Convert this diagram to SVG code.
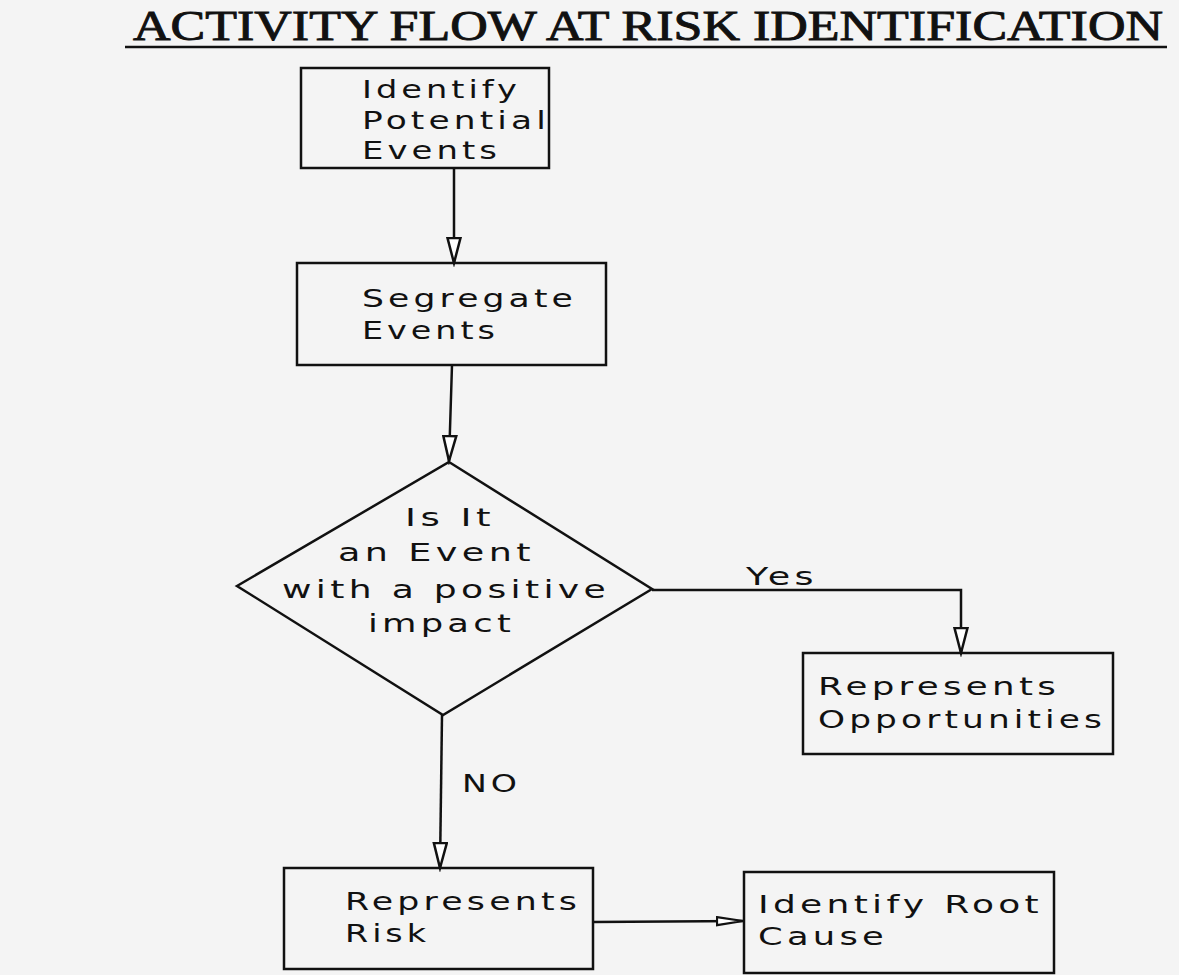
<svg xmlns="http://www.w3.org/2000/svg" width="1179" height="975" viewBox="0 0 1179 975">
<defs>
<style>
.box{fill:none;stroke:#111;stroke-width:2.5}
.ln{fill:none;stroke:#111;stroke-width:2.5}
.t{font-family:"DejaVu Sans","Liberation Sans",sans-serif;font-size:25px;letter-spacing:3px;fill:#111}
.title{font-family:"Liberation Serif","Times New Roman",serif;font-size:42px;fill:#111;stroke:#111;stroke-width:0.9}
</style>
<marker id="arr" markerUnits="userSpaceOnUse" markerWidth="30" markerHeight="16" viewBox="0 0 30 16" refX="26" refY="8" orient="auto">
<path d="M1,1.5 L26,8 L1,14.5 Z" fill="#fff" stroke="#111" stroke-width="2.5"/>
</marker>
<marker id="arr2" markerUnits="userSpaceOnUse" markerWidth="30" markerHeight="12" viewBox="0 0 30 12" refX="27" refY="6" orient="auto">
<path d="M1,2 L27,6 L1,10 Z" fill="#fff" stroke="#111" stroke-width="2.2"/>
</marker>
</defs>
<rect x="0" y="0" width="1179" height="975" fill="#f4f4f4"/>
<g id="title">
<text class="title" x="133" y="40" textLength="1030" lengthAdjust="spacingAndGlyphs">ACTIVITY FLOW AT RISK IDENTIFICATION</text>
<line x1="125" y1="47" x2="1167" y2="47" stroke="#111" stroke-width="2.5"/>
</g>
<g id="connectors">
<line class="ln" x1="454" y1="168" x2="454" y2="263" marker-end="url(#arr)"/>
<line class="ln" x1="452" y1="365" x2="449" y2="461" marker-end="url(#arr)"/>
<polyline class="ln" points="652,590 961,590 961,653" marker-end="url(#arr)"/>
<line class="ln" x1="442" y1="715" x2="440" y2="868" marker-end="url(#arr)"/>
<line class="ln" x1="593" y1="922" x2="743" y2="921" marker-end="url(#arr2)"/>
<text class="t" x="746" y="585" textLength="72" lengthAdjust="spacingAndGlyphs">Yes</text>
<text class="t" x="462" y="792" textLength="59" lengthAdjust="spacingAndGlyphs">NO</text>
</g>
<g id="node-identify">
<rect class="box" x="301" y="68" width="248" height="100"/>
<text class="t" x="362" y="98" textLength="159" lengthAdjust="spacingAndGlyphs">Identify</text>
<text class="t" x="362" y="129" textLength="188" lengthAdjust="spacingAndGlyphs">Potential</text>
<text class="t" x="362" y="159" textLength="139" lengthAdjust="spacingAndGlyphs">Events</text>
</g>
<g id="node-segregate">
<rect class="box" x="297" y="263" width="309" height="102"/>
<text class="t" x="362" y="307" textLength="215" lengthAdjust="spacingAndGlyphs">Segregate</text>
<text class="t" x="362" y="339" textLength="137" lengthAdjust="spacingAndGlyphs">Events</text>
</g>
<g id="node-decision">
<polygon class="box" points="449,462 652,589 443,715 237,586"/>
<text class="t" x="405" y="526" textLength="90" lengthAdjust="spacingAndGlyphs">Is It</text>
<text class="t" x="338" y="561" textLength="197" lengthAdjust="spacingAndGlyphs">an Event</text>
<text class="t" x="282" y="598" textLength="328" lengthAdjust="spacingAndGlyphs">with a positive</text>
<text class="t" x="368" y="632" textLength="147" lengthAdjust="spacingAndGlyphs">impact</text>
</g>
<g id="node-opportunities">
<rect class="box" x="803" y="653" width="310" height="101"/>
<text class="t" x="818" y="695" textLength="242" lengthAdjust="spacingAndGlyphs">Represents</text>
<text class="t" x="818" y="728" textLength="288" lengthAdjust="spacingAndGlyphs">Opportunities</text>
</g>
<g id="node-risk">
<rect class="box" x="284" y="868" width="309" height="101"/>
<text class="t" x="345" y="910" textLength="236" lengthAdjust="spacingAndGlyphs">Represents</text>
<text class="t" x="345" y="942" textLength="85" lengthAdjust="spacingAndGlyphs">Risk</text>
</g>
<g id="node-rootcause">
<rect class="box" x="744" y="872" width="310" height="101"/>
<text class="t" x="758" y="913" textLength="285" lengthAdjust="spacingAndGlyphs">Identify Root</text>
<text class="t" x="758" y="945" textLength="130" lengthAdjust="spacingAndGlyphs">Cause</text>
</g>
</svg>
